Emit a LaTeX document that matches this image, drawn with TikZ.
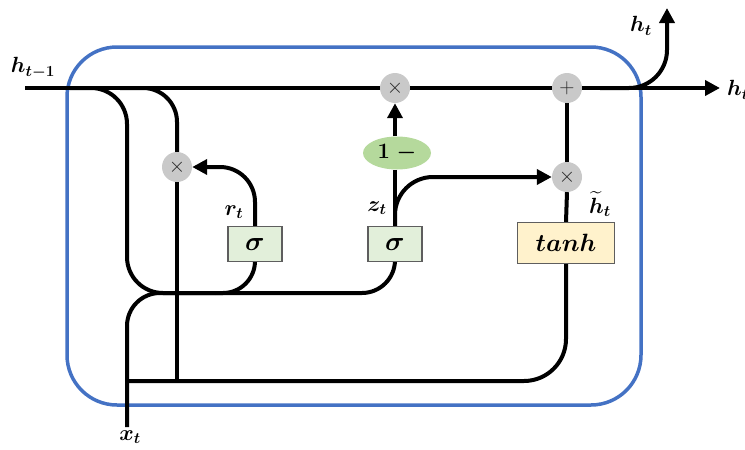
\RequirePackage{fix-cm}
\documentclass[tikz,border=0pt]{standalone}
\usetikzlibrary{arrows.meta,shapes.geometric}
\usepackage{amsmath}
\definecolor{cellblue}{HTML}{4472C4}
\definecolor{opgray}{HTML}{C9C9C9}
\definecolor{gatefill}{HTML}{E2EFDA}
\definecolor{candfill}{HTML}{FFF2CC}
\definecolor{onefill}{HTML}{B5D99C}
\definecolor{boxline}{HTML}{5E5E5E}
\pgfdeclarelayer{background}
\pgfsetlayers{background,main}
\begin{document}
\begin{tikzpicture}[x=1pt,y=-1pt,
  wire/.style={line width=4pt, line join=round},
  arr/.style={wire, -{Triangle[length=15pt,width=15pt]}},
  op/.style={circle, fill=opgray, minimum size=30pt, inner sep=0pt,
    font=\fontsize{21}{21}\selectfont\unboldmath, text=black!85},
  gatebox/.style={draw=boxline, line width=1.1pt, fill=gatefill,
    minimum width=54pt, minimum height=35pt, inner sep=0pt,
    font=\fontsize{27}{30}\selectfont\boldmath},
  candbox/.style={gatebox, fill=candfill, minimum width=97pt, minimum height=41pt,
    font=\fontsize{25}{28}\selectfont\boldmath},
  onebox/.style={ellipse, fill=onefill, minimum width=68pt, minimum height=33pt,
    inner sep=0pt, font=\fontsize{22}{24}\selectfont\boldmath},
  lbl/.style={inner sep=0pt, font=\fontsize{22}{24}\selectfont\boldmath},
  cell/.style={draw=cellblue, line width=3.5pt, rounded corners=50pt}
]
\useasboundingbox (0,0) rectangle (745,450);

% pointwise operations
\node[op] (mulr) at (177,167) {$\times$};
\node[op] (mulz) at (395,88) {$\times$};
\node[op] (plus) at (567,88) {$+$};
\node[op] (mulh) at (567,177) {$\times$};

% gates and candidate
\node[gatebox] (sigr) at (255,244) {$\sigma$};
\node[gatebox] (sigz) at (395,244) {$\sigma$};
\node[candbox] (tanh) at (566,243) {$tanh$};
\node[onebox] (onem) at (397,153) {$1\ -$};

% wire ends and junctions
\coordinate (hin) at (25,88);
\coordinate (hout) at (720,88);
\coordinate (tapA) at (70,88);
\coordinate (tapB) at (120,88);
\coordinate (tapC) at (600,88);
\coordinate (hup) at (667,8);
\coordinate (xin) at (127,427);
\coordinate (gin) at (127,293);
\coordinate (busmid) at (215,293);
\coordinate (cand) at (127,381);

\begin{pgfonlayer}{background}
  % cell boundary
  \draw[cell] (67,47) rectangle (641,405);
  % hidden state path
  \draw[arr] (hin) -- (hout);
  \draw[arr, rounded corners=38pt] (tapC) -| (hup);
  % previous state into the gates
  \draw[wire, rounded corners=36pt] (tapA) -| (gin) -- (busmid);
  \draw[wire, rounded corners=34pt] (tapB) -| (mulr.north);
  \draw[wire] (mulr.south) -- (mulr |- cand);
  % reset gate
  \draw[wire, rounded corners=32pt] (sigr.south) |- (busmid);
  \draw[arr, rounded corners=35pt] (sigr.north) |- (mulr.east);
  % input into the update gate and the candidate
  \draw[wire, rounded corners=33pt] (xin) -- (gin) -| (sigz.south);
  \draw[wire, rounded corners=42pt] (cand) -| (tanh.south);
  % update gate
  \draw[wire] (sigz.north) -- (onem.south -| sigz.north);
  \draw[arr] (onem.north -| mulz) -- (mulz.south);
  \draw[arr, rounded corners=38pt] (sigz.north) |- (mulh.west);
  % candidate path
  \draw[wire] (plus.south) -- (mulh.north);
  \draw[wire] (mulh.south) -- (tanh.north);
\end{pgfonlayer}

% labels
\node[lbl] (lhprev) at (33,68) {$h_{t-1}$};
\node[lbl] (lhup) at (641,26) {$h_t$};
\node[lbl, anchor=west] (lhout) at (727,90) {$h_t$};
\node[lbl] (lr) at (234,212) {$r_t$};
\node[lbl] (lz) at (377,208) {$z_t$};
\node[lbl] (lcand) at (600,204) {$\widetilde{h}_t$};
\node[lbl] (lx) at (130,437) {$x_t$};
\end{tikzpicture}
\end{document}
